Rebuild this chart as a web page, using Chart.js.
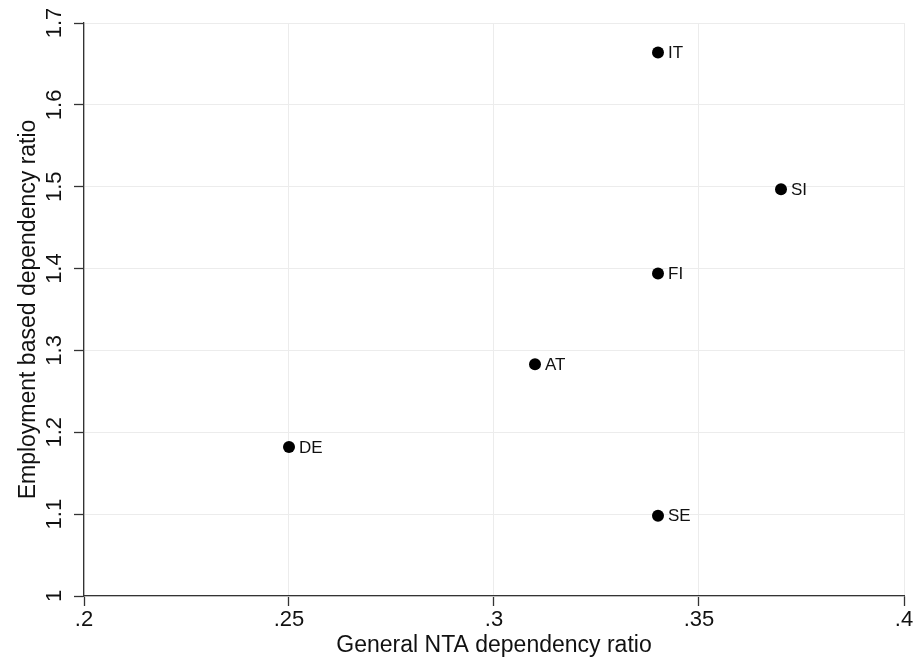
<!DOCTYPE html>
<html>
<head>
<meta charset="utf-8">
<script src="https://cdn.jsdelivr.net/npm/chart.js@4/dist/chart.umd.min.js"></script>
<style>
  html, body { margin: 0; padding: 0; background: #fff; }
  #wrap { width: 921px; height: 661px; }
</style>
</head>
<body>
<div id="wrap"><canvas id="c" width="921" height="661"></canvas></div>
<script>
// ---- data ----
const countries = ['IT', 'SI', 'FI', 'AT', 'DE', 'SE'];
const generalNTA = [0.34, 0.37, 0.34, 0.31, 0.25, 0.34];
const employmentBased = [1.664, 1.497, 1.394, 1.283, 1.182, 1.098];
const xTicks = [0.2, 0.25, 0.3, 0.35, 0.4];
const yTicks = [1, 1.1, 1.2, 1.3, 1.4, 1.5, 1.6, 1.7];
const xTitle = 'General NTA dependency ratio';
const yTitle = 'Employment based dependency ratio';

const points = countries.map((c, i) => ({ x: generalNTA[i], y: employmentBased[i], label: c }));

const FONT = '"Liberation Sans", Arial, Helvetica, sans-serif';

const pointLabels = {
  id: 'pointLabels',
  afterDatasetsDraw(chart) {
    const ctx = chart.ctx;
    const meta = chart.getDatasetMeta(0);
    ctx.save();
    ctx.font = '17px ' + FONT;
    ctx.fillStyle = '#111';
    ctx.textAlign = 'left';
    ctx.textBaseline = 'middle';
    meta.data.forEach((el, i) => {
      ctx.fillText(countries[i], el.x + 10, el.y + 1);
    });
    ctx.restore();
  }
};

new Chart(document.getElementById('c'), {
  type: 'scatter',
  data: {
    datasets: [{
      data: points,
      backgroundColor: '#000',
      borderColor: '#000',
      pointRadius: 6,
      pointHoverRadius: 6,
      borderWidth: 0
    }]
  },
  options: {
    responsive: false,
    animation: false,
    events: [],
    layout: { padding: { top: 23, right: 17, bottom: 4, left: 13 } },
    plugins: { legend: { display: false }, tooltip: { enabled: false } },
    scales: {
      x: {
        type: 'linear',
        min: xTicks[0],
        max: xTicks[xTicks.length - 1],
        afterBuildTicks(scale) { scale.ticks = xTicks.map(v => ({ value: v })); },
        grid: { color: '#ececec', lineWidth: 1, tickLength: 10, tickColor: '#333', tickWidth: 1.3 },
        border: { display: true, color: '#333', width: 1.3 },
        ticks: {
          padding: 3,
          color: '#111',
          font: { family: FONT, size: 22, lineHeight: 1 },
          maxRotation: 0,
          callback: v => Number(v.toFixed(2)).toString().replace(/^0\./, '.')
        },
        title: {
          display: true,
          text: xTitle,
          color: '#111',
          font: { family: FONT, size: 23, lineHeight: 1 },
          padding: { top: 0, bottom: 0 }
        }
      },
      y: {
        type: 'linear',
        min: yTicks[0],
        max: yTicks[yTicks.length - 1],
        afterBuildTicks(scale) { scale.ticks = yTicks.map(v => ({ value: v })); },
        grid: { color: '#ececec', lineWidth: 1, tickLength: 10, tickColor: '#333', tickWidth: 1.3 },
        border: { display: true, color: '#333', width: 1.3 },
        ticks: {
          padding: 4,
          color: '#111',
          minRotation: 90,
          maxRotation: 90,
          crossAlign: 'center',
          font: { family: FONT, size: 22, lineHeight: 1 },
          callback: v => Number(v.toFixed(1)).toString()
        },
        title: {
          display: true,
          text: yTitle,
          color: '#111',
          font: { family: FONT, size: 23, lineHeight: 1 },
          padding: { top: 4, bottom: 4 }
        }
      }
    }
  },
  plugins: [pointLabels]
});
</script>
</body>
</html>
